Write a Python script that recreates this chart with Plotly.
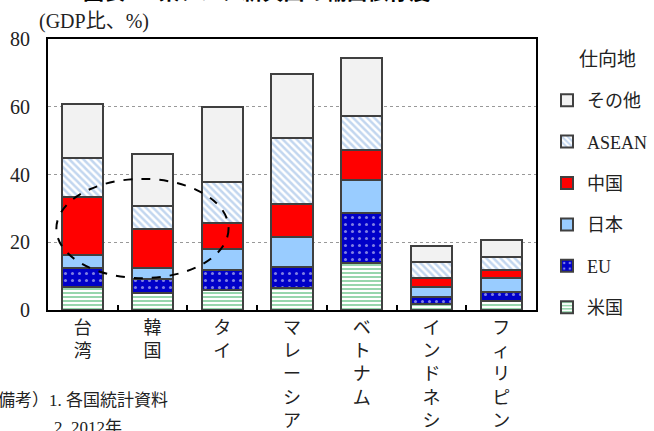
import plotly.graph_objects as go

categories = ["台湾", "韓国", "タイ", "マレーシア", "ベトナム", "インドネシア", "フィリピン"]
us = [6.7, 4.9, 5.9, 6.4, 14.0, 1.8, 2.8]
eu = [5.6, 4.4, 5.9, 6.4, 14.7, 2.1, 2.6]
japan = [3.9, 3.2, 6.2, 8.8, 9.7, 3.0, 4.0]
china = [17.1, 11.5, 7.6, 9.7, 8.8, 2.6, 2.5]
asean = [11.7, 6.8, 12.3, 19.6, 10.1, 4.6, 3.6]
other = [15.8, 15.2, 21.9, 18.7, 17.0, 4.9, 5.3]

series_names = ["米国", "EU", "日本", "中国", "ASEAN", "その他"]
title_text = "図表2　東アジア新興国の輸出依存度"
y_title = "(GDP比、%)"
legend_title = "仕向地"
note1 = "備考）1. 各国統計資料"
note2 = "2. 2012年"

SERIF = "Liberation Serif, Noto Sans CJK JP, serif"
OUTLINE = dict(color="#404040", width=2)

tick_text = ["<br>".join(list(c)) for c in categories]

styles = [
    dict(color="white", pattern=dict(shape="-", fgcolor="#2fae5c", bgcolor="white", size=4, solidity=0.5)),
    dict(color="#0000c8", pattern=dict(shape=".", fgcolor="white", bgcolor="#0000c8", size=7, solidity=0.15)),
    dict(color="#99ccff"),
    dict(color="#ff0000"),
    dict(color="white", pattern=dict(shape="\\", fgcolor="#86aee0", bgcolor="white", size=5, solidity=0.5)),
    dict(color="#f2f2f2"),
]
values = [us, eu, japan, china, asean, other]

fig = go.Figure()
n = len(series_names)
for i, (name, vals, st) in enumerate(zip(series_names, values, styles)):
    marker = dict(line=OUTLINE, **st)
    fig.add_trace(go.Bar(
        x=categories, y=vals, name=name, marker=marker,
        legendgroup=f"g{i}", legendrank=n - i,
    ))

PL, PR, PT, PB = 48, 533, 39, 310

fig.update_layout(
    width=654, height=431,
    margin=dict(l=PL, r=654 - PR - 3, t=PT, b=431 - PB),
    barmode="stack",
    bargap=0.41,
    plot_bgcolor="white",
    paper_bgcolor="white",
    font=dict(family=SERIF, size=18, color="#222"),
    showlegend=True,
    legend=dict(
        traceorder="grouped",
        tracegroupgap=15,
        xref="container", yref="container",
        x=547 / 654, xanchor="left", y=1 - 82 / 431, yanchor="top",
        font=dict(size=18, family=SERIF, color="#222"),
        itemwidth=30,
        maxheight=420,
        bgcolor="rgba(0,0,0,0)",
    ),
    xaxis=dict(
        tickmode="array", tickvals=categories, ticktext=tick_text,
        showline=True, linecolor="black", linewidth=2, mirror=True,
        ticks="inside", tickson="boundaries", ticklen=5, tickwidth=2, tickcolor="black",
        tickfont=dict(size=18, family=SERIF, color="#222"),
        showgrid=False, automargin=False,
    ),
    yaxis=dict(
        range=[0, 80], dtick=20,
        showline=True, linecolor="black", linewidth=2, mirror=True,
        showgrid=True, gridcolor="#999999", griddash="dot", gridwidth=1,
        ticks="", tickfont=dict(size=20, family=SERIF, color="#222"),
        ticklabelstandoff=12,
        zeroline=False, automargin=False,
    ),
    shapes=[dict(
        type="circle", xref="x", yref="y",
        x0=-0.38, x1=2.09, y0=9.4, y1=38.7,
        line=dict(color="black", width=2, dash="dash"),
        fillcolor="rgba(0,0,0,0)",
    )],
)

def px_ann(text, xpx, ypx, xanchor, yanchor, size, family=SERIF, color="#222"):
    fig.add_annotation(text=text, xref="paper", yref="paper",
                       x=(xpx - PL) / (PR - PL), y=(PB - ypx) / (PB - PT),
                       xanchor=xanchor, yanchor=yanchor, showarrow=False,
                       font=dict(size=size, family=family, color=color))

px_ann(f"<b>{title_text}</b>", 256, 7, "center", "bottom", 21, "Noto Sans CJK JP", "black")
px_ann(y_title, 37, 22, "left", "middle", 20)
px_ann(legend_title, 574, 60, "left", "middle", 19)
px_ann(note1, -4, 400, "left", "middle", 17)
px_ann(note2, 52, 427, "left", "middle", 17)

fig.write_html("out.html")
